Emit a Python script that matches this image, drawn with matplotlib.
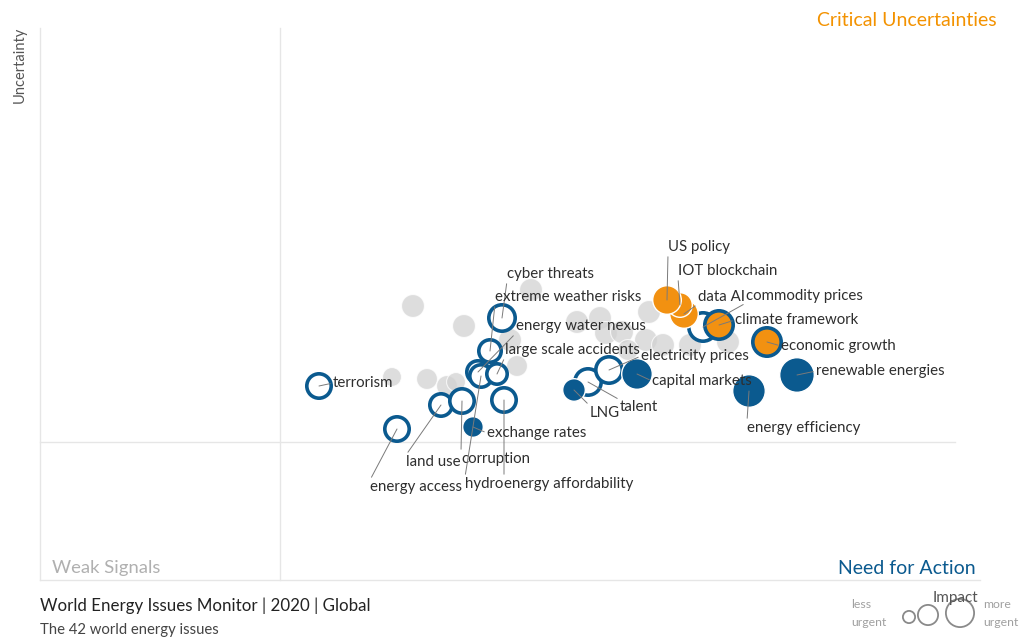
import matplotlib.pyplot as plt

plt.rcParams['font.family'] = ['Lato', 'DejaVu Sans']

# Issue positions (pixel units: x = impact, y = uncertainty, y grows down)
# and bubble radius (urgency)
grey_x = [413, 464, 392, 427, 447, 456, 531, 517, 510, 577, 600, 606, 622, 649, 646, 663, 628, 690, 728]
grey_y = [306, 326, 377, 379, 386, 382, 290, 366, 340, 322, 318, 333, 332, 312, 340, 345, 350, 345, 342]
grey_r = [12, 12, 10, 11, 11, 10, 12, 11, 12, 12, 12, 12, 12, 12, 12, 12, 11, 12, 12]

issues = ['terrorism', 'energy access', 'land use', 'corruption', 'energy affordability',
          'cyber threats', 'extreme weather risks', 'energy water nexus', 'hydro',
          'large scale accidents', 'exchange rates', 'talent', 'LNG', 'electricity prices',
          'capital markets', 'energy efficiency', 'renewable energies', 'commodity prices',
          'climate framework', 'economic growth', 'data AI', 'IOT blockchain', 'US policy']
issue_x = [319, 397, 441, 462, 504, 502, 490, 478, 481, 497, 473, 588, 574, 609,
           637, 749, 797, 703, 719, 767, 684, 680, 667]
issue_y = [386, 429, 405, 401, 400, 318, 351, 372, 376, 374, 427, 382, 390, 370,
           374, 391, 375, 327, 325, 342, 314, 305, 300]
issue_r = [14, 14, 13, 14, 14, 15, 13, 13, 13, 12, 11, 15, 12, 15,
           16, 17, 18, 16, 16, 16, 15, 13, 15]
issue_kind = ['ring', 'ring', 'ring', 'ring', 'ring', 'ring', 'ring', 'ring', 'ring',
              'ring', 'filled', 'ring', 'filled', 'ring', 'filled', 'filled', 'filled',
              'ring', 'orange_ring', 'orange_ring', 'orange', 'orange', 'orange']

# label offsets (pixels, y up) from each bubble
label_offset = {
    'terrorism': (14, 3), 'energy access': (-27, -58), 'land use': (-35, -57),
    'corruption': (-1, -58), 'energy affordability': (0, -84), 'cyber threats': (5, 44),
    'extreme weather risks': (5, 54), 'energy water nexus': (38, 46), 'hydro': (-16, -108),
    'large scale accidents': (8, 24), 'exchange rates': (14, -6), 'talent': (32, -25),
    'LNG': (16, -23), 'electricity prices': (32, 14), 'capital markets': (15, -7),
    'energy efficiency': (-2, -37), 'renewable energies': (19, 4), 'commodity prices': (43, 31),
    'climate framework': (16, 5), 'economic growth': (14, -4), 'data AI': (14, 17),
    'IOT blockchain': (-2, 34), 'US policy': (1, 53),
}

blue = '#0b5a8f'
orange = '#f29111'
styles = {
    'ring': ('white', blue, 2.6),
    'filled': (blue, 'white', 1.0),
    'orange': (orange, 'white', 1.0),
    'orange_ring': (orange, blue, 2.6),
}

fig = plt.figure(figsize=(10.22, 6.38), dpi=100)
ax = fig.add_axes([0, 0, 1, 1])
ax.set_xlim(0, 1022)
ax.set_ylim(638, 0)
ax.axis('off')

# quadrant frame
line_c = '#e6e6e6'
ax.plot([40, 40], [28, 580], color=line_c, lw=1, zorder=0)
ax.plot([280, 280], [28, 580], color=line_c, lw=1, zorder=0)
ax.plot([40, 980], [580, 580], color=line_c, lw=1, zorder=0)
ax.plot([40, 955], [442, 442], color=line_c, lw=1, zorder=0)


def marker_size(r, lw):
    # outer radius in px -> scatter area in pt^2
    rad = r * 0.72 - lw / 2
    return (2 * rad) ** 2


# grey background issues
ax.scatter(grey_x, grey_y, s=[marker_size(r, 0.8) for r in grey_r], color='#d2d2d2',
           alpha=0.75, edgecolors='white', linewidths=0.8, zorder=1)

# highlighted issues, drawn in order
fc = [styles[k][0] for k in issue_kind]
ec = [styles[k][1] for k in issue_kind]
lw = [styles[k][2] for k in issue_kind]
ax.scatter(issue_x, issue_y, s=[marker_size(r, w) for r, w in zip(issue_r, lw)],
           facecolors=fc, edgecolors=ec, linewidths=lw, zorder=2)

for name, x, y in zip(issues, issue_x, issue_y):
    dx, dy = label_offset[name]
    if dy > 15:
        rel = (0, 0)
    elif dy < -15:
        rel = (0, 1)
    else:
        rel = (0, 0.5)
    ax.annotate(name, xy=(x, y), xytext=(dx, dy), textcoords='offset pixels',
                ha='left', va='center', fontsize=10.8, color='#2e2e2e', zorder=5,
                arrowprops=dict(arrowstyle='-', color='#7a7a7a', lw=0.7,
                                shrinkA=0, shrinkB=0, relpos=rel))

# quadrant names
ax.text(997, 21, 'Critical Uncertainties', color='#f39200', fontsize=14, ha='right', va='center')
ax.text(976, 568, 'Need for Action', color=blue, fontsize=14, ha='right', va='center')
ax.text(52, 568, 'Weak Signals', color='#b0b0b0', fontsize=13.3, ha='left', va='center')
ax.text(20, 65, 'Uncertainty', color='#555555', fontsize=10.5, rotation=90, ha='center', va='center')

# footer
ax.text(40, 606, 'World Energy Issues Monitor | 2020 | Global', color='#222222', fontsize=12.2,
        ha='left', va='center')
ax.text(40, 630, 'The 42 world energy issues', color='#444444', fontsize=10.7, ha='left', va='center')

# bubble size legend
leg_x = [909, 928, 960]
leg_y = [617, 615, 613]
leg_r = [7, 11, 15]
ax.scatter(leg_x, leg_y, s=[marker_size(r, 1.3) for r in leg_r], facecolors='none',
           edgecolors='#8a8a8a', linewidths=1.3, zorder=2, clip_on=False)
ax.text(955, 598, 'Impact', color='#555555', fontsize=11, ha='center', va='center', zorder=3)
ax.text(851, 604, 'less', color='#a0a0a0', fontsize=8.8, ha='left', va='center')
ax.text(851, 623, 'urgent', color='#a0a0a0', fontsize=8.8, ha='left', va='center')
ax.text(983, 604, 'more', color='#a0a0a0', fontsize=8.8, ha='left', va='center')
ax.text(983, 623, 'urgent', color='#a0a0a0', fontsize=8.8, ha='left', va='center')

plt.savefig('out.png', dpi=100)
